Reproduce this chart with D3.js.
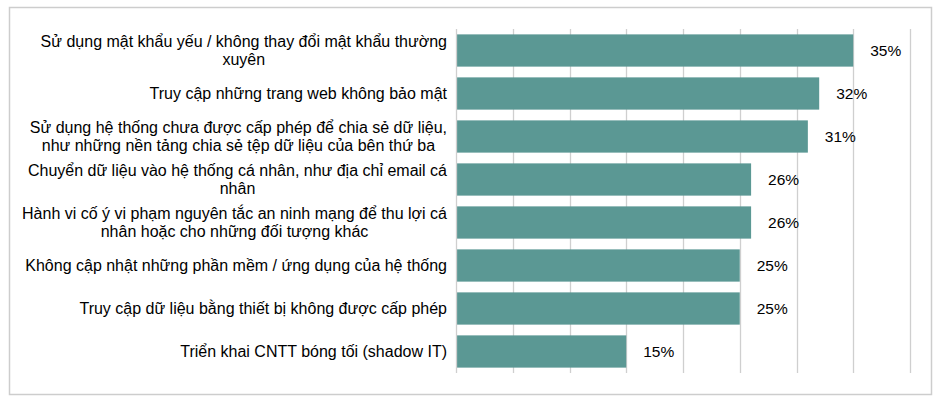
<!DOCTYPE html>
<html>
<head>
<meta charset="utf-8">
<script src="https://cdn.jsdelivr.net/npm/d3@7"></script>
<style>
  body { margin: 0; background: #fff; }
  text { font-family: "Liberation Sans", Arial, sans-serif; fill: #000; }
</style>
</head>
<body>
<svg id="chart" width="936" height="400"></svg>
<script>
const width = 936, height = 400;

// data
const categories = [
  ['Sử dụng mật khẩu yếu / không thay đổi mật khẩu thường', 'xuyên'],
  ['Truy cập những trang web không bảo mật '],
  ['Sử dụng hệ thống chưa được cấp phép để chia sẻ dữ liệu,', 'như những nền tảng chia sẻ tệp dữ liệu của bên thứ ba'],
  ['Chuyển dữ liệu vào hệ thống cá nhân, như địa chỉ email cá', 'nhân'],
  ['Hành vi cố ý vi phạm nguyên tắc an ninh mạng để thu lợi cá', 'nhân hoặc cho những đối tượng khác'],
  ['Không cập nhật những phần mềm / ứng dụng của hệ thống'],
  ['Truy cập dữ liệu bằng thiết bị không được cấp phép'],
  ['Triển khai CNTT bóng tối (shadow IT)']
];
const values = [35, 32, 31, 26, 26, 25, 25, 15];
const xTicks = [0, 5, 10, 15, 20, 25, 30, 35, 40];

const fig = {
  margin: {top: 29, right: 26, bottom: 27, left: 456}
};
fig.width = width - fig.margin.left - fig.margin.right;
fig.height = height - fig.margin.top - fig.margin.bottom;

const barColor = '#5b9894';
const gridColor = '#cfcfcf';

const svg = d3.select('#chart');

// outer frame
svg.append('rect')
  .attr('x', 9.5)
  .attr('y', 7.5)
  .attr('width', 922)
  .attr('height', 387)
  .attr('fill', 'none')
  .attr('stroke', '#cdcdcd')
  .attr('stroke-width', 1.5);

const x = d3.scaleLinear()
  .domain([0, 40])
  .range([0, 454]);

const y = d3.scaleBand()
  .domain(d3.range(categories.length))
  .range([0, 344])
  .paddingInner(0.25)
  .paddingOuter(0.125);

const g = svg.append('g')
  .attr('transform', 'translate(' + fig.margin.left + ',' + fig.margin.top + ')');

// gridlines
g.append('g')
  .selectAll('line')
  .data(xTicks.slice(1))
  .join('line')
    .attr('x1', d => Math.round(x(d)) + 0.5)
    .attr('x2', d => Math.round(x(d)) + 0.5)
    .attr('y1', 0)
    .attr('y2', 344)
    .attr('stroke', gridColor)
    .attr('stroke-width', 1.3);

// bars
g.selectAll('.bar')
  .data(values)
  .join('rect')
    .attr('class', 'bar')
    .attr('x', 0)
    .attr('y', (d, i) => y(i))
    .attr('width', d => x(d))
    .attr('height', y.bandwidth())
    .attr('fill', barColor);

// axis line
g.append('line')
  .attr('x1', 0.5).attr('x2', 0.5)
  .attr('y1', 0).attr('y2', 344)
  .attr('stroke', gridColor)
  .attr('stroke-width', 1.3);

// value labels
g.selectAll('.val')
  .data(values)
  .join('text')
    .attr('class', 'val')
    .attr('x', d => x(d) + 17)
    .attr('y', (d, i) => y(i) + y.bandwidth() / 2)
    .attr('dy', '0.38em')
    .attr('font-size', '15.5px')
    .text(d => d + '%');

// category labels, multi-line centred in a block right-aligned to the axis
const lineH = 18.5;
const labelRight = -9;
const labels = g.selectAll('.cat')
  .data(categories)
  .join('text')
    .attr('class', 'cat')
    .attr('font-size', '16px')
    .attr('text-anchor', 'middle');

labels.each(function(lines, i) {
  const t = d3.select(this);
  const cy = y(i) + y.bandwidth() / 2;
  const spans = t.selectAll('tspan')
    .data(lines)
    .join('tspan')
      .attr('y', (d, j) => cy + (j - (lines.length - 1) / 2) * lineH)
      .attr('dy', '0.35em')
      .text(d => d);
  let maxW = 0;
  spans.each(function() { maxW = Math.max(maxW, this.getComputedTextLength()); });
  spans.attr('x', labelRight - maxW / 2);
});
</script>
</body>
</html>
